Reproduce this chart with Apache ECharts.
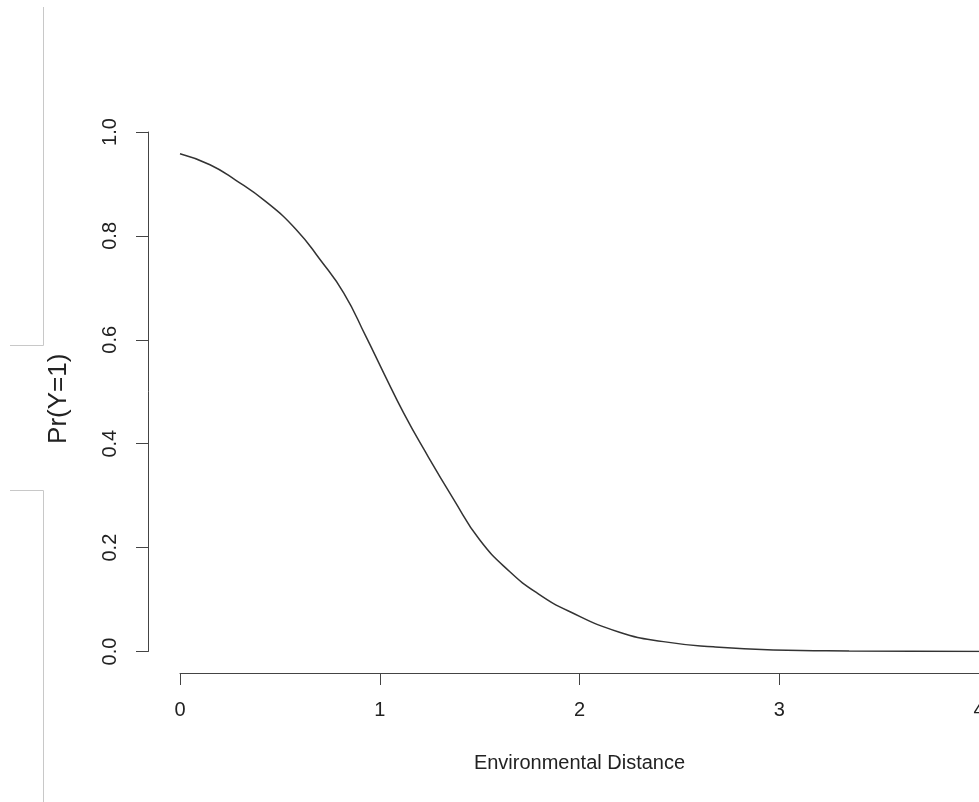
<!DOCTYPE html>
<html lang="en">
<head>
    <meta charset="UTF-8">
    <script src="https://cdn.jsdelivr.net/npm/echarts@6/dist/echarts.min.js"></script>
    <style>
        html, body { margin: 0; padding: 0; background: #fff; }
        #main { width: 979px; height: 802px; }
    </style>
</head>
<body>
    <div id="main"></div>

    <script>
        // values
        var distance = [0, 0.15, 0.28, 0.43, 0.58, 0.70, 0.82, 0.93, 1.02, 1.12, 1.22, 1.37, 1.50, 1.65, 1.79, 1.95, 2.2, 2.42, 2.67, 2.97, 3.35, 4.0];
        var prob = [0.958, 0.937, 0.907, 0.866, 0.813, 0.755, 0.69, 0.607, 0.536, 0.459, 0.39, 0.293, 0.215, 0.154, 0.112, 0.077, 0.037, 0.019, 0.009, 0.003, 0.001, 0.0];
        var xTicks = [0, 1, 2, 3, 4];
        var yTicks = [0, 0.2, 0.4, 0.6, 0.8, 1.0];

        var points = distance.map(function (d, i) {
            return [d, prob[i]];
        });

        var font = 'Liberation Sans, Arial, sans-serif';
        var axisColor = '#444';

        var chart = echarts.init(document.getElementById('main'));

        chart.setOption({
            animation: false,
            grid: {
                left: 180,
                right: 0,
                top: 132,
                height: 519.5,
                outerBoundsMode: 'none'
            },
            xAxis: {
                type: 'value',
                min: xTicks[0],
                max: xTicks[xTicks.length - 1],
                interval: 1,
                offset: 21.5,
                name: 'Environmental Distance',
                nameLocation: 'middle',
                nameGap: 80,
                nameTextStyle: { fontFamily: font, fontSize: 20, color: '#222' },
                axisLine: { show: true, onZero: false, lineStyle: { color: axisColor, width: 1 } },
                axisTick: { show: true, length: 12, lineStyle: { color: axisColor } },
                axisLabel: { margin: 27, fontFamily: font, fontSize: 20, color: '#222' },
                splitLine: { show: false }
            },
            yAxis: {
                type: 'value',
                min: yTicks[0],
                max: yTicks[yTicks.length - 1],
                interval: 0.2,
                offset: 32,
                name: 'Pr(Y=1)',
                nameLocation: 'middle',
                nameGap: 76,
                nameRotate: 90,
                nameTextStyle: { fontFamily: font, fontSize: 26, color: '#222', padding: [0, 14, 0, 0] },
                axisLine: { show: true, onZero: false, lineStyle: { color: axisColor, width: 1 } },
                axisTick: { show: true, length: 12, lineStyle: { color: axisColor } },
                axisLabel: {
                    rotate: 90,
                    margin: 28,
                    fontFamily: font,
                    fontSize: 20,
                    color: '#222',
                    formatter: function (v) { return v.toFixed(1); }
                },
                splitLine: { show: false }
            },
            series: [{
                type: 'line',
                data: points,
                smooth: true,
                showSymbol: false,
                lineStyle: { color: '#333', width: 1.5 }
            }],
            graphic: [
                { type: 'line', shape: { x1: 43.5, y1: 7, x2: 43.5, y2: 345.5 }, style: { stroke: '#c8c8c8', lineWidth: 1 } },
                { type: 'line', shape: { x1: 10, y1: 345.5, x2: 43.5, y2: 345.5 }, style: { stroke: '#c8c8c8', lineWidth: 1 } },
                { type: 'line', shape: { x1: 10, y1: 490.5, x2: 43.5, y2: 490.5 }, style: { stroke: '#c8c8c8', lineWidth: 1 } },
                { type: 'line', shape: { x1: 43.5, y1: 490.5, x2: 43.5, y2: 802 }, style: { stroke: '#c8c8c8', lineWidth: 1 } }
            ]
        });
    </script>
</body>
</html>
